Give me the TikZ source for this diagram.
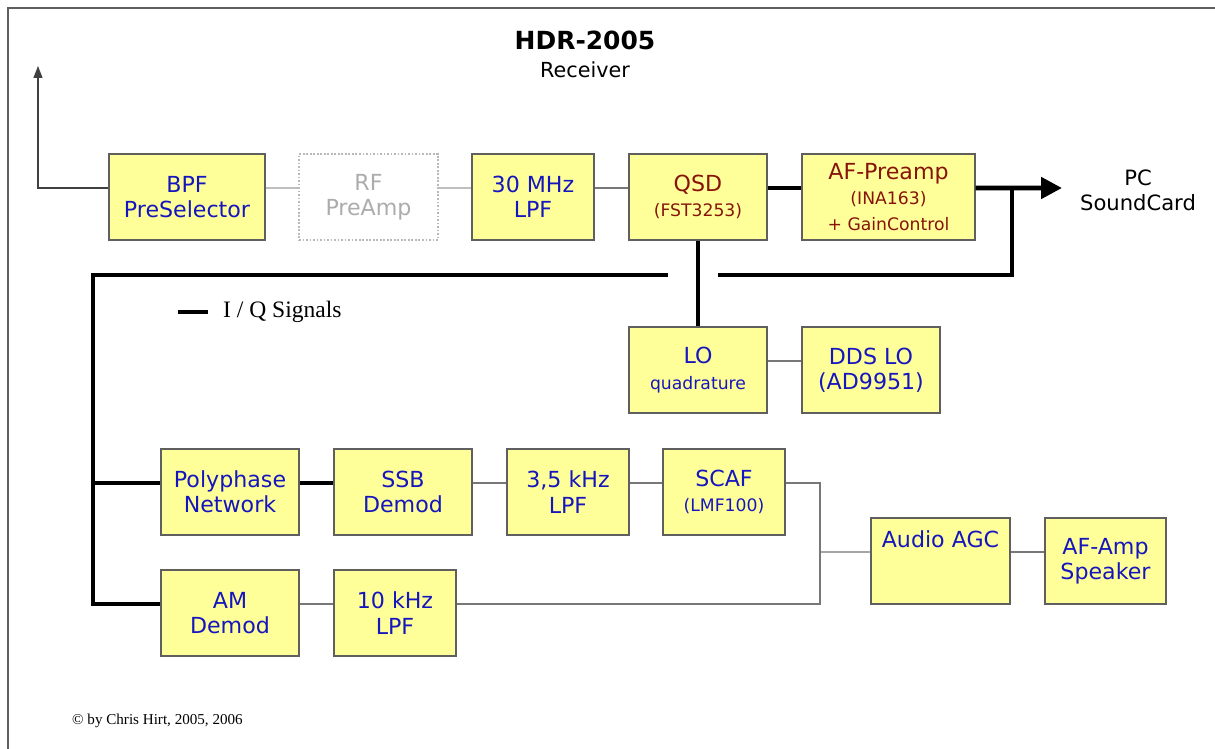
\documentclass[tikz,border=0pt]{standalone}
\usepackage{fontspec}
\setmainfont{DejaVu Sans}
\newfontfamily\serifen{Liberation Serif}
\usetikzlibrary{arrows.meta, positioning}
\definecolor{blokzuta}{RGB}{255,255,153}
\definecolor{plavo}{RGB}{22,22,190}
\definecolor{crveno}{RGB}{135,20,10}
\definecolor{ivica}{RGB}{95,95,95}

\begin{document}
\begin{tikzpicture}[x=0.02cm, y=-0.02cm, font=\fontsize{12.6}{14.4}\selectfont,
    blok/.style={rectangle, draw=ivica, line width=0.8pt, fill=blokzuta, text=plavo,
                 minimum height=1.72cm, text centered, align=center},
    prazan/.style={rectangle, draw=gray!55, line width=0.8pt, dash pattern=on 1pt off 1pt,
                   fill=white, text=gray!65, minimum height=1.72cm, text centered, align=center},
    tanka/.style={draw=ivica!85, line width=0.7pt},
    debela/.style={draw=black, line width=2.8pt, line join=miter}]

    \useasboundingbox (0,0) rectangle (1215,749);
    \draw [ivica, line width=1pt] (1215,8) -- (8,8) -- (8,749);

    % ---------------- naslov ----------------
    \node (naslov) [font=\bfseries\fontsize{14.2}{17}\selectfont] at (585,40) {HDR-2005};
    \node (podnaslov) [font=\fontsize{11.8}{14}\selectfont] at (585,70) {Receiver};

    % ---------------- blokovi ----------------
    \node (bpf)   [blok,   minimum width=3.12cm] at (187,197)   {BPF\\PreSelector};
    \node (rf)    [prazan, minimum width=2.78cm] at (368.5,197) {RF\\PreAmp};
    \node (lpfA)  [blok,   minimum width=2.44cm] at (533,197)   {30 MHz\\LPF};
    \node (qsd)   [blok,   minimum width=2.76cm, text=crveno] at (698,197)   {QSD\\{\fontsize{9.8}{12}\selectfont (FST3253)}};
    \node (afpre) [blok,   minimum width=3.46cm, text=crveno] at (888.5,197) {AF-Preamp\\{\fontsize{9.8}{12}\selectfont (INA163)}\\{\fontsize{9.8}{12}\selectfont + GainControl}};
    \node (pc)    [align=center, font=\fontsize{12}{14.4}\selectfont] at (1138,190) {PC\\SoundCard};
    \node (lo)    [blok,   minimum width=2.76cm] at (698,370)   {LO\\{\fontsize{9.8}{12}\selectfont quadrature}};
    \node (dds)   [blok,   minimum width=2.76cm] at (871,370)   {DDS LO\\(AD9951)};
    \node (poly)  [blok,   minimum width=2.76cm] at (230,492)   {Polyphase\\Network};
    \node (ssb)   [blok,   minimum width=2.76cm] at (403,492)   {SSB\\Demod};
    \node (lpfB)  [blok,   minimum width=2.44cm] at (568,492)   {3,5 kHz\\LPF};
    \node (scaf)  [blok,   minimum width=2.44cm] at (724,492)   {SCAF\\{\fontsize{9.8}{12}\selectfont (LMF100)}};
    \node (am)    [blok,   minimum width=2.76cm] at (230,613)   {AM\\Demod};
    \node (lpfC)  [blok,   minimum width=2.44cm] at (395,613)   {10 kHz\\LPF};
    \node (agc)   [blok,   minimum width=2.78cm] at (940.5,561) {Audio AGC\\[10pt]~};
    \node (spk)   [blok,   minimum width=2.42cm] at (1105.5,561) {AF-Amp\\Speaker};

    % ---------------- tacke ----------------
    \coordinate (ant)    at (38,66);
    \coordinate (izlaz)  at (1062,188);
    \coordinate (grana)  at (1012,188);
    \coordinate (prekidD) at (718,275);
    \coordinate (prekidL) at (668,275);
    \coordinate (sabirnica) at (93,275);
    \coordinate (spoj)   at (820,552);
    \coordinate (polyUlaz) at ([yshift=1.8mm]poly.west);
    \coordinate (amUlaz) at ([yshift=1.8mm]am.west);

    % ---------------- RF put ----------------
    \draw [tanka, draw=black!75, -{Triangle[length=0.24cm, width=0.18cm]}] ([yshift=1.8mm]bpf.west) -| (ant);
    \draw [tanka, draw=gray!50] ([yshift=1.8mm]bpf.east) -- ([yshift=1.8mm]rf.west);
    \draw [tanka, draw=gray!50] ([yshift=1.8mm]rf.east) -- ([yshift=1.8mm]lpfA.west);
    \draw [tanka] ([yshift=1.8mm]lpfA.east) -- ([yshift=1.8mm]qsd.west);

    % ---------------- I/Q signali ----------------
    \draw [debela] ([yshift=1.8mm]qsd.east) -- ([yshift=1.8mm]afpre.west);
    \draw [debela, -{Triangle[length=0.42cm, width=0.42cm]}] ([yshift=1.8mm]afpre.east) -- (izlaz);
    \draw [debela] (grana) |- (prekidD);
    \draw [debela] (prekidL) -- (sabirnica) |- (amUlaz);
    \draw [debela] (polyUlaz -| sabirnica) -- (polyUlaz);
    \draw [debela] (qsd.south) -- (lo.north);
    \draw [debela] ([yshift=1.8mm]poly.east) -- ([yshift=1.8mm]ssb.west);

    % ---------------- audio put ----------------
    \draw [tanka] ([yshift=1.8mm]lo.east) -- ([yshift=1.8mm]dds.west);
    \draw [tanka] ([yshift=1.8mm]ssb.east) -- ([yshift=1.8mm]lpfB.west);
    \draw [tanka] ([yshift=1.8mm]lpfB.east) -- ([yshift=1.8mm]scaf.west);
    \draw [tanka] ([yshift=1.8mm]am.east) -- ([yshift=1.8mm]lpfC.west);
    \draw [tanka] ([yshift=1.8mm]scaf.east) -| (spoj);
    \draw [tanka] ([yshift=1.8mm]lpfC.east) -| (spoj);
    \draw [tanka] (spoj) -- ([yshift=1.8mm]agc.west);
    \draw [tanka] ([yshift=1.8mm]agc.east) -- ([yshift=1.8mm]spk.west);

    % ---------------- legenda ----------------
    \coordinate (leg1) at (178,312);
    \coordinate (leg2) at (208,312);
    \draw [debela] (leg1) -- (leg2);
    \node (legtekst) [anchor=west, font=\serifen\fontsize{13.4}{16}\selectfont] at (217,312) {I / Q Signals};
    \node (autor) [anchor=west, font=\serifen\fontsize{8.6}{10}\selectfont] at (66,721) {© by Chris Hirt, 2005, 2006};
\end{tikzpicture}
\end{document}
